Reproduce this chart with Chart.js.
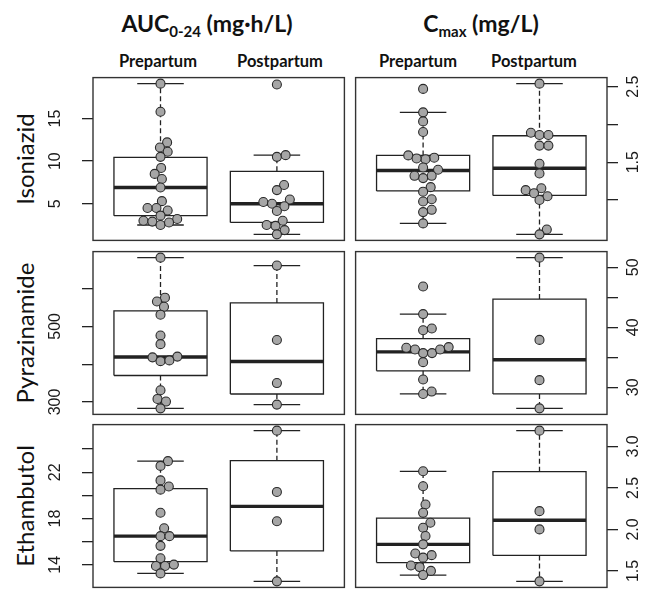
<!DOCTYPE html>
<html>
<head>
<meta charset="utf-8">
<script src="https://cdn.jsdelivr.net/npm/chart.js@4.4.1/dist/chart.umd.min.js"></script>
<style>
  body { margin: 0; background: #fff; width: 653px; height: 593px; position: relative; overflow: hidden; font-family: Lato, sans-serif; color: #111; }
  canvas { position: absolute; }
  .title { position: absolute; width: 300px; text-align: center; font: bold 23px Lato; line-height: 28px; top: 9px; white-space: nowrap; }
  .title sub { font-size: 15px; vertical-align: -5px; line-height: 0; }
  .grp { position: absolute; width: 120px; text-align: center; font: bold 16.5px Lato; line-height: 20px; top: 51px; white-space: nowrap; }
  .drug { position: absolute; font: 24px Lato; white-space: nowrap; transform: translate(-50%, -50%) rotate(-90deg); line-height: 28px; }
</style>
</head>
<body>
<div class="title" style="left:57px">AUC<sub>0-24</sub> (mg·h/L)</div>
<div class="title" style="left:331px">C<sub>max</sub> (mg/L)</div>
<div class="grp" style="left:98px">Prepartum</div>
<div class="grp" style="left:220px">Postpartum</div>
<div class="grp" style="left:358px">Prepartum</div>
<div class="grp" style="left:474px">Postpartum</div>
<div class="drug" style="left:25px;top:159px">Isoniazid</div>
<div class="drug" style="left:25px;top:333px">Pyrazinamide</div>
<div class="drug" style="left:25px;top:506px">Ethambutol</div>

<canvas id="isoAuc"></canvas>
<canvas id="isoCmax"></canvas>
<canvas id="pzaAuc"></canvas>
<canvas id="pzaCmax"></canvas>
<canvas id="etbAuc"></canvas>
<canvas id="etbCmax"></canvas>

<script>
// groups on the x axis
const groups = ["Prepartum", "Postpartum"];

// individual values
const isoAucPre = [19.1, 15.8, 12.2, 11.6, 11.1, 10.5, 9.2, 8.5, 7.9, 6.9, 5.3, 4.5, 4.2, 4.5, 3.6, 3.2, 3.0, 2.9, 2.5, 2.8];
const isoAucPost = [19.0, 10.5, 10.7, 7.2, 6.6, 5.5, 5.2, 5.0, 4.7, 4.15, 3.0, 2.5, 2.4, 1.9, 1.4];
const isoCmaxPre = [2.47, 2.16, 2.04, 1.90, 1.59, 1.56, 1.54, 1.55, 1.43, 1.40, 1.32, 1.29, 1.32, 1.17, 1.11, 1.01, 0.98, 0.87, 0.84, 0.69];
const isoCmaxPost = [2.54, 1.89, 1.86, 1.86, 1.72, 1.72, 1.48, 1.35, 1.155, 1.13, 1.09, 1.05, 1.0, 0.61, 0.545];
const pzaAucPre = [682, 576, 566, 552, 531, 476, 453, 420, 418, 408, 410, 331, 308, 301, 283];
const pzaAucPost = [661, 464, 350, 293];
const pzaCmaxPre = [46.8, 42.2, 39.8, 39.5, 36.6, 36.3, 35.7, 35.7, 36.3, 36.7, 34.2, 31.3, 29.3, 28.9];
const pzaCmaxPost = [51.6, 37.9, 31.2, 26.5];
const etbAucPre = [22.96, 22.55, 21.3, 20.77, 20.5, 18.5, 17.16, 16.48, 16.48, 15.64, 14.57, 14.02, 13.9, 13.9, 13.26];
const etbAucPost = [25.6, 20.3, 17.77, 12.57];
const etbCmaxPre = [2.70, 2.52, 2.30, 2.20, 2.08, 2.02, 1.92, 1.82, 1.71, 1.69, 1.66, 1.565, 1.546, 1.50, 1.45];
const etbCmaxPost = [3.19, 2.22, 2.00, 1.374];

// box stats: [lower whisker, Q1, median, Q3, upper whisker]
const isoAucBoxPre = [2.5, 3.6, 6.9, 10.45, 19.1];
const isoAucBoxPost = [1.4, 2.8, 5.0, 8.8, 10.7];
const isoCmaxBoxPre = [0.69, 1.12, 1.39, 1.59, 2.16];
const isoCmaxBoxPost = [0.545, 1.06, 1.42, 1.85, 2.54];
const pzaAucBoxPre = [283, 370, 419, 541, 682];
const pzaAucBoxPost = [293, 321, 407, 562, 661];
const pzaCmaxBoxPre = [28.9, 32.75, 35.9, 38.1, 42.2];
const pzaCmaxBoxPost = [26.5, 28.9, 34.6, 44.7, 51.6];
const etbAucBoxPre = [13.26, 14.27, 16.48, 20.58, 22.96];
const etbAucBoxPost = [12.57, 15.2, 19.05, 23.0, 25.6];
const etbCmaxBoxPre = [1.45, 1.60, 1.82, 2.136, 2.70];
const etbCmaxBoxPost = [1.374, 1.687, 2.11, 2.695, 3.19];

// y ticks and their labels (blank = tick mark only)
const isoAucTicks = [5, 10, 15];
const isoAucLabels = ["5", "10", "15"];
const isoCmaxTicks = [1.0, 1.5, 2.0, 2.5];
const isoCmaxLabels = ["", "1.5", "", "2.5"];
const pzaAucTicks = [300, 400, 500, 600];
const pzaAucLabels = ["300", "", "500", ""];
const pzaCmaxTicks = [30, 35, 40, 45, 50];
const pzaCmaxLabels = ["30", "", "40", "", "50"];
const etbAucTicks = [14, 16, 18, 20, 22, 24];
const etbAucLabels = ["14", "", "18", "", "22", ""];
const etbCmaxTicks = [1.5, 2.0, 2.5, 3.0];
const etbCmaxLabels = ["1.5", "2.0", "2.5", "3.0"];

// layout
const PANEL_W = 254, PANEL_H = 170;
const X_MIN = 0.42, X_MAX = 2.58;
const PX_PER_X = PANEL_W / (X_MAX - X_MIN);
const DOT = 9;          // swarm spacing in px
const BOX_HALF = 0.4, STAPLE_HALF = 0.2;
const LINE = '#222';

Chart.defaults.font.family = 'Lato';
Chart.defaults.animation = false;

// simple beeswarm: place each point as close to the centre as it can go
function swarm(vals, pxPerY) {
  const order = vals.map((v, i) => i).sort((a, b) => vals[a] - vals[b]);
  const placed = [];
  const out = new Array(vals.length);
  order.forEach(i => {
    const y = vals[i] * pxPerY;
    const cands = [0];
    placed.forEach(p => {
      const dy = y - p.y;
      if (Math.abs(dy) < DOT) {
        const dx = Math.sqrt(DOT * DOT - dy * dy);
        cands.push(p.x + dx, p.x - dx);
      }
    });
    cands.sort((a, b) => Math.abs(a) - Math.abs(b));
    const x = cands.find(c => placed.every(p => (c - p.x) ** 2 + (y - p.y) ** 2 >= DOT * DOT - 0.01));
    placed.push({ x: x, y: y });
    out[i] = x;
  });
  return out;
}

function makePanel(id, left, top, side, pre, post, boxPre, boxPost, ticks, labels) {
  const all = pre.concat(post, boxPre, boxPost);
  const lo = Math.min(...all), hi = Math.max(...all);
  const pad = (hi - lo) * 0.04;
  const yMin = lo - pad, yMax = hi + pad;
  const pxPerY = PANEL_H / (yMax - yMin);

  const points = [];
  [pre, post].forEach((vals, g) => {
    const xs = swarm(vals, pxPerY);
    vals.forEach((v, i) => points.push({ x: g + 1 + xs[i] / PX_PER_X, y: v }));
  });

  const boxes = [], medians = [], whiskers = [], staples = [];
  [boxPre, boxPost].forEach((b, g) => {
    const c = g + 1;
    const [wLo, q1, med, q3, wHi] = b;
    boxes.push({ x: c - BOX_HALF, y: q1 }, { x: c + BOX_HALF, y: q1 }, { x: c + BOX_HALF, y: q3 },
               { x: c - BOX_HALF, y: q3 }, { x: c - BOX_HALF, y: q1 }, { x: c, y: null });
    medians.push({ x: c - BOX_HALF, y: med }, { x: c + BOX_HALF, y: med }, { x: c, y: null });
    whiskers.push({ x: c, y: q3 }, { x: c, y: wHi }, { x: c, y: null },
                  { x: c, y: q1 }, { x: c, y: wLo }, { x: c, y: null });
    staples.push({ x: c - STAPLE_HALF, y: wHi }, { x: c + STAPLE_HALF, y: wHi }, { x: c, y: null },
                 { x: c - STAPLE_HALF, y: wLo }, { x: c + STAPLE_HALF, y: wLo }, { x: c, y: null });
  });

  const isLeft = side === 'left';
  const canvas = document.getElementById(id);
  canvas.width = isLeft ? 312 : 303;
  canvas.height = PANEL_H + 4;
  canvas.style.left = left + 'px';
  canvas.style.top = (top - 2) + 'px';

  const frame = {
    id: 'frame',
    beforeDatasetsDraw(chart) {
      const a = chart.chartArea, ctx = chart.ctx;
      ctx.save();
      ctx.strokeStyle = '#333';
      ctx.lineWidth = 1.4;
      ctx.strokeRect(a.left, a.top, a.right - a.left, a.bottom - a.top);
      ctx.restore();
    },
    afterDraw(chart) {
      const s = chart.scales.y, ctx = chart.ctx;
      ctx.save();
      ctx.fillStyle = '#1a1a1a';
      ctx.font = '16px "Liberation Sans"';
      ctx.textAlign = 'center';
      ctx.textBaseline = 'middle';
      const x = isLeft ? s.right - 37 : s.left + 27;
      ticks.forEach((v, i) => {
        if (!labels[i]) return;
        ctx.save();
        ctx.translate(x, s.getPixelForValue(v));
        ctx.rotate(-Math.PI / 2);
        ctx.fillText(labels[i], 0, 0);
        ctx.restore();
      });
      ctx.restore();
    }
  };

  const lineSet = (data, width, dash) => ({
    data: data, showLine: true, pointRadius: 0, borderColor: LINE,
    borderWidth: width, borderDash: dash || [], spanGaps: false, fill: false, order: 1
  });

  new Chart(canvas, {
    type: 'scatter',
    data: {
      datasets: [
        { data: points, pointRadius: 4.5, pointBackgroundColor: '#a6a6a6', pointBorderColor: '#2a2a2a',
          pointBorderWidth: 1.1, order: 0 },
        lineSet(medians, 3.4),
        lineSet(boxes, 1.3),
        lineSet(whiskers, 1.3, [5, 3]),
        lineSet(staples, 1.3)
      ]
    },
    options: {
      responsive: false,
      layout: { padding: isLeft ? { top: 2, bottom: 2, left: 0, right: 3 } : { top: 2, bottom: 2, left: 3, right: 0 } },
      plugins: { legend: { display: false }, tooltip: { enabled: false } },
      events: [],
      scales: {
        x: { type: 'linear', min: X_MIN, max: X_MAX, display: false },
        y: {
          position: side,
          min: yMin,
          max: yMax,
          afterBuildTicks: s => { s.ticks = ticks.map(v => ({ value: v })); },
          afterFit: s => { s.width = isLeft ? 55 : 46; },
          ticks: { display: false },
          grid: { drawOnChartArea: false, drawTicks: true, tickLength: 11, color: LINE, lineWidth: 1.3 },
          border: { display: false }
        }
      }
    },
    plugins: [frame]
  });
}

makePanel('isoAuc', 38, 74, 'left', isoAucPre, isoAucPost, isoAucBoxPre, isoAucBoxPost, isoAucTicks, isoAucLabels);
makePanel('isoCmax', 350, 74, 'right', isoCmaxPre, isoCmaxPost, isoCmaxBoxPre, isoCmaxBoxPost, isoCmaxTicks, isoCmaxLabels);
makePanel('pzaAuc', 38, 248, 'left', pzaAucPre, pzaAucPost, pzaAucBoxPre, pzaAucBoxPost, pzaAucTicks, pzaAucLabels);
makePanel('pzaCmax', 350, 248, 'right', pzaCmaxPre, pzaCmaxPost, pzaCmaxBoxPre, pzaCmaxBoxPost, pzaCmaxTicks, pzaCmaxLabels);
makePanel('etbAuc', 38, 421, 'left', etbAucPre, etbAucPost, etbAucBoxPre, etbAucBoxPost, etbAucTicks, etbAucLabels);
makePanel('etbCmax', 350, 421, 'right', etbCmaxPre, etbCmaxPost, etbCmaxBoxPre, etbCmaxBoxPost, etbCmaxTicks, etbCmaxLabels);
</script>
</body>
</html>
